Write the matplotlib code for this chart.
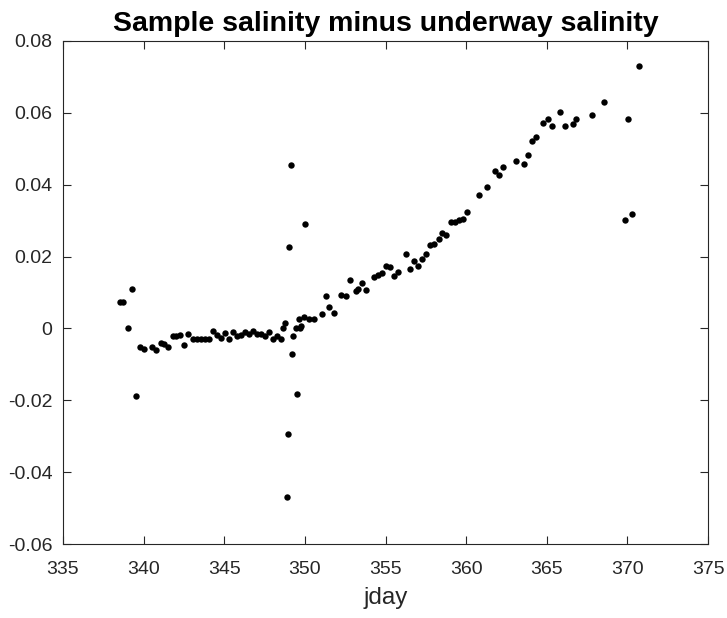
import numpy as np
import matplotlib
matplotlib.use('Agg')
import matplotlib.pyplot as plt

plt.rcParams['font.family'] = ['Liberation Sans', 'DejaVu Sans']

# jday of each sample
jday = [338.53, 338.74, 339.01, 339.26, 339.53, 339.78, 340.02, 340.52, 340.79, 341.08,
        341.29, 341.53, 341.80, 342.01, 342.26, 342.53, 342.78, 343.07, 343.33, 343.58,
        343.83, 344.05, 344.28, 344.53, 344.80, 345.05, 345.29, 345.52, 345.77, 346.02,
        346.29, 346.55, 346.80, 347.05, 347.30, 347.55, 347.80, 348.05, 348.29, 348.52,
        348.66, 348.79, 348.89, 348.95, 349.03, 349.12, 349.20, 349.28, 349.43, 349.53,
        349.62, 349.70, 349.76, 349.96, 350.03, 350.27, 350.57, 351.04, 351.29, 351.51,
        351.81, 352.21, 352.55, 352.79, 353.15, 353.30, 353.53, 353.79, 354.29, 354.56,
        354.80, 355.03, 355.28, 355.55, 355.79, 356.27, 356.54, 356.79, 357.03, 357.28,
        357.53, 357.78, 358.03, 358.30, 358.52, 358.77, 359.04, 359.29, 359.54, 359.79,
        360.03, 360.77, 361.29, 361.81, 362.04, 362.29, 363.09, 363.57, 363.82, 364.07,
        364.31, 364.79, 365.06, 365.31, 365.80, 366.13, 366.61, 366.80, 367.81, 368.55,
        369.85, 370.06, 370.31, 370.70]

# sample salinity minus underway salinity
dsal = [0.0073, 0.0074, 0.0000, 0.0109, -0.0188, -0.0053, -0.0056, -0.0052, -0.0060, -0.0041,
        -0.0042, -0.0053, -0.0022, -0.0022, -0.0019, -0.0045, -0.0016, -0.0030, -0.0030, -0.0030,
        -0.0030, -0.0030, -0.0006, -0.0019, -0.0028, -0.0014, -0.0030, -0.0011, -0.0020, -0.0019,
        -0.0010, -0.0016, -0.0008, -0.0015, -0.0016, -0.0020, -0.0010, -0.0029, -0.0022, -0.0029,
        0.0002, 0.0016, -0.0470, -0.0293, 0.0227, 0.0455, -0.0072, -0.0021, 0.0000, -0.0182,
        0.0025, 0.0000, 0.0007, 0.0033, 0.0290, 0.0025, 0.0025, 0.0039, 0.0091, 0.0059,
        0.0044, 0.0094, 0.0091, 0.0135, 0.0103, 0.0111, 0.0127, 0.0107, 0.0142, 0.0150,
        0.0155, 0.0173, 0.0170, 0.0145, 0.0156, 0.0207, 0.0165, 0.0188, 0.0174, 0.0194,
        0.0207, 0.0232, 0.0235, 0.0250, 0.0265, 0.0260, 0.0297, 0.0295, 0.0302, 0.0304,
        0.0323, 0.0370, 0.0394, 0.0438, 0.0427, 0.0450, 0.0466, 0.0457, 0.0483, 0.0522,
        0.0533, 0.0572, 0.0583, 0.0563, 0.0602, 0.0563, 0.0568, 0.0582, 0.0595, 0.0629,
        0.0302, 0.0583, 0.0319, 0.0730]

xticks = [335, 340, 345, 350, 355, 360, 365, 370, 375]
yticks = [-0.06, -0.04, -0.02, 0, 0.02, 0.04, 0.06, 0.08]
yticklabels = ['-0.06', '-0.04', '-0.02', '0', '0.02', '0.04', '0.06', '0.08']

fig = plt.figure(figsize=(7.27, 6.18), dpi=100)
ax = fig.add_axes([0.0867, 0.1197, 0.8873, 0.814])

ax.plot(jday, dsal, 'o', color='black', markersize=4.6, markeredgewidth=0)

ax.set_xlim(335, 375)
ax.set_ylim(-0.06, 0.08)
ax.set_xticks(xticks)
ax.set_yticks(yticks)
ax.set_yticklabels(yticklabels)

ax.tick_params(direction='in', length=6, width=0.8, top=True, right=True,
               labelsize=14, colors='#262626')
ax.tick_params(axis='x', pad=12)
ax.tick_params(axis='y', pad=7.5)
for s in ax.spines.values():
    s.set_color('#262626')
    s.set_linewidth(0.8)

ax.set_title('Sample salinity minus underway salinity', fontsize=20.5, fontweight='bold', pad=7)
ax.set_xlabel('jday', fontsize=17.5, color='#262626', labelpad=7)

fig.savefig('out.png', dpi=100)
